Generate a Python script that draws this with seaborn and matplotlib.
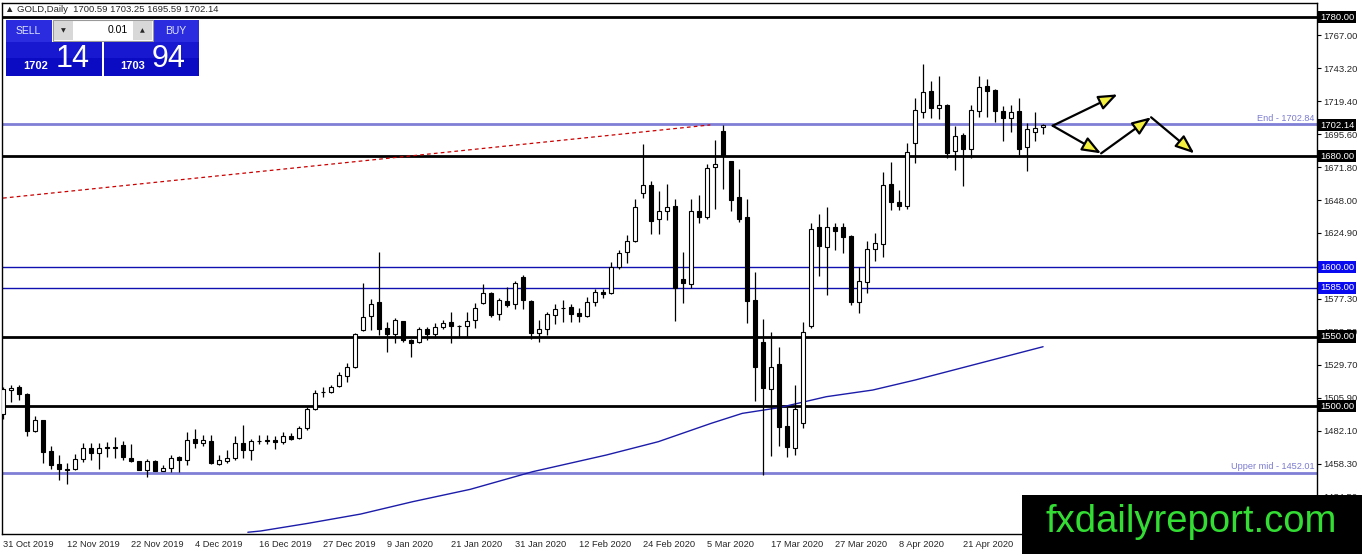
import numpy as np
import pandas as pd
import matplotlib
matplotlib.use("Agg")
import matplotlib.pyplot as plt
import seaborn as sns
from matplotlib.patches import Rectangle, FancyArrowPatch
from matplotlib import transforms

# Daily GOLD candles, 31 Oct 2019 onwards (bar index 0..130)
opens = [1494.5, 1511.5, 1513.7, 1509.0, 1482.0, 1489.7, 1467.4, 1458.5, 1455.0, 1454.9,
         1462.0, 1470.0, 1466.4, 1470.7, 1470.4, 1471.7, 1462.8, 1460.2, 1453.7, 1460.2,
         1453.2, 1455.4, 1463.3, 1461.4, 1476.5, 1473.6, 1474.6, 1458.5, 1460.4, 1462.6,
         1473.6, 1468.1, 1475.0, 1474.6, 1475.3, 1474.3, 1478.2, 1477.0, 1484.2, 1498.0,
         1509.8, 1510.3, 1514.4, 1521.6, 1527.8, 1554.7, 1564.8, 1575.1, 1555.9, 1551.6,
         1561.2, 1547.5, 1545.8, 1555.2, 1551.6, 1556.6, 1560.2, 1557.8, 1557.6, 1561.9,
         1573.9, 1581.6, 1566.2, 1575.8, 1573.4, 1593.1, 1575.8, 1552.3, 1555.2, 1565.5,
         1570.6, 1571.0, 1567.2, 1564.8, 1575.1, 1582.3, 1581.1, 1600.3, 1611.1, 1619.0,
         1653.1, 1658.9, 1634.4, 1640.4, 1644.0, 1591.2, 1587.6, 1640.4, 1636.3, 1671.8,
         1698.0, 1676.4, 1650.2, 1635.8, 1576.3, 1545.8, 1512.0, 1530.0, 1485.6, 1469.5,
         1488.0, 1557.6, 1628.6, 1614.2, 1628.6, 1629.1, 1622.4, 1575.1, 1589.5, 1612.8,
         1616.4, 1659.8, 1647.1, 1644.2, 1689.1, 1711.9, 1727.0, 1714.8, 1716.7, 1683.8,
         1695.1, 1685.0, 1712.6, 1730.4, 1727.5, 1712.6, 1707.1, 1712.4, 1686.2, 1697.5,
         1700.59]
highs = [1514.0, 1515.0, 1515.0, 1509.5, 1493.0, 1490.0, 1471.0, 1465.0, 1459.0, 1465.7,
         1473.6, 1473.4, 1473.4, 1474.0, 1478.0, 1474.6, 1472.4, 1460.4, 1462.0, 1460.9,
         1457.3, 1464.5, 1463.8, 1481.3, 1483.2, 1478.9, 1478.9, 1464.5, 1468.1, 1478.4,
         1486.1, 1476.5, 1479.4, 1479.4, 1478.2, 1481.3, 1480.6, 1485.4, 1499.3, 1511.8,
         1513.7, 1515.1, 1524.2, 1531.2, 1552.3, 1588.3, 1576.8, 1611.1, 1560.7, 1563.6,
         1561.2, 1548.0, 1557.1, 1557.1, 1560.0, 1561.9, 1567.9, 1558.0, 1567.9, 1574.4,
         1587.8, 1582.3, 1578.0, 1585.9, 1590.2, 1594.3, 1576.3, 1561.9, 1567.9, 1573.4,
         1576.3, 1573.4, 1570.3, 1578.2, 1584.0, 1584.0, 1603.9, 1612.3, 1623.1, 1649.0,
         1688.6, 1662.0, 1655.0, 1659.8, 1649.0, 1610.6, 1649.0, 1651.9, 1674.2, 1691.5,
         1702.3, 1676.4, 1670.4, 1649.0, 1596.7, 1562.4, 1553.0, 1542.7, 1499.5, 1515.1,
         1560.2, 1631.5, 1638.2, 1643.5, 1631.5, 1632.0, 1623.1, 1599.8, 1618.8, 1624.3,
         1668.7, 1675.9, 1655.5, 1689.1, 1721.5, 1746.0, 1734.0, 1737.6, 1717.2, 1701.6,
         1696.8, 1716.7, 1737.8, 1735.4, 1728.0, 1716.0, 1716.7, 1721.5, 1703.5, 1711.9,
         1703.25]
lows = [1491.0, 1503.0, 1504.0, 1478.4, 1481.0, 1459.0, 1454.4, 1446.5, 1444.0, 1454.2,
        1459.7, 1461.4, 1454.4, 1463.0, 1462.8, 1460.9, 1459.7, 1453.7, 1448.9, 1453.0,
        1453.0, 1452.5, 1452.5, 1457.3, 1470.0, 1471.0, 1458.5, 1457.3, 1459.0, 1461.4,
        1462.8, 1460.9, 1472.4, 1472.4, 1468.8, 1472.4, 1475.3, 1476.5, 1482.5, 1497.4,
        1506.5, 1509.6, 1513.9, 1517.5, 1527.1, 1554.2, 1554.7, 1551.1, 1539.1, 1545.1,
        1546.3, 1535.0, 1545.1, 1547.5, 1548.7, 1555.2, 1545.6, 1550.0, 1550.0, 1555.9,
        1573.4, 1564.3, 1561.9, 1571.5, 1569.6, 1569.6, 1548.0, 1546.3, 1551.1, 1559.0,
        1560.7, 1560.7, 1560.7, 1563.8, 1572.0, 1578.0, 1580.9, 1598.4, 1603.2, 1618.3,
        1650.0, 1623.8, 1623.8, 1633.9, 1561.0, 1574.4, 1585.2, 1631.5, 1634.4, 1641.8,
        1656.2, 1640.6, 1632.7, 1560.0, 1503.8, 1450.3, 1464.2, 1471.4, 1463.0, 1464.7,
        1483.9, 1556.0, 1593.8, 1579.9, 1612.3, 1610.4, 1572.7, 1567.2, 1581.6, 1604.4,
        1607.5, 1641.1, 1641.1, 1641.8, 1674.7, 1707.6, 1707.1, 1706.6, 1678.3, 1669.9,
        1658.6, 1678.8, 1708.3, 1708.3, 1704.7, 1690.8, 1697.0, 1680.7, 1669.4, 1690.8,
        1695.59]
closes = [1512.5, 1513.0, 1508.9, 1482.0, 1489.7, 1467.0, 1457.3, 1454.4, 1454.2, 1462.0,
          1470.0, 1466.4, 1470.0, 1469.8, 1470.0, 1463.3, 1460.4, 1453.7, 1460.2, 1453.2,
          1455.4, 1462.8, 1461.4, 1475.8, 1473.4, 1475.3, 1459.0, 1460.9, 1462.8, 1473.6,
          1468.1, 1474.8, 1474.5, 1475.3, 1474.3, 1478.2, 1476.0, 1484.4, 1498.0, 1509.6,
          1510.3, 1513.9, 1522.3, 1527.8, 1551.6, 1564.3, 1573.2, 1555.2, 1551.6, 1561.9,
          1547.5, 1545.1, 1555.2, 1551.6, 1556.6, 1559.5, 1557.6, 1557.4, 1561.4, 1570.3,
          1581.1, 1565.5, 1576.3, 1572.7, 1588.3, 1576.3, 1552.3, 1555.2, 1566.0, 1569.6,
          1570.8, 1566.2, 1565.0, 1575.1, 1582.3, 1580.4, 1600.3, 1610.4, 1618.6, 1643.0,
          1658.9, 1633.4, 1640.4, 1643.5, 1584.7, 1588.8, 1640.4, 1635.8, 1671.1, 1674.2,
          1680.7, 1648.3, 1634.4, 1575.8, 1528.3, 1513.2, 1527.8, 1485.1, 1470.7, 1497.6,
          1553.0, 1627.4, 1615.4, 1628.6, 1626.2, 1621.4, 1575.1, 1590.0, 1612.8, 1617.1,
          1659.1, 1646.6, 1644.2, 1682.6, 1713.1, 1725.8, 1714.8, 1716.7, 1682.4, 1694.4,
          1685.0, 1713.1, 1729.4, 1727.0, 1712.6, 1707.1, 1711.4, 1685.0, 1699.4, 1699.9,
          1702.14]

date_labels = ["31 Oct 2019", "12 Nov 2019", "22 Nov 2019", "4 Dec 2019", "16 Dec 2019",
               "27 Dec 2019", "9 Jan 2020", "21 Jan 2020", "31 Jan 2020", "12 Feb 2020",
               "24 Feb 2020", "5 Mar 2020", "17 Mar 2020", "27 Mar 2020", "8 Apr 2020",
               "21 Apr 2020"]

# scale labels (1601.10 sits fully under the 1600.00 box, so it is left out)
price_ticks = [1767.0, 1743.2, 1719.4, 1695.6, 1671.8, 1648.0, 1624.9,
               1577.3, 1553.5, 1529.7, 1505.9, 1482.1, 1458.3, 1434.5]

# moving average (blue curve), read at a few bars
ma_bars = [30.6, 32.2, 38.1, 44.7, 51.2, 58.4, 66.2, 75.4, 81.9, 88.5, 92.4, 97.0,
           102.9, 108.7, 114.0, 121.2, 130.0]
ma_vals = [1409.1, 1410.0, 1415.5, 1422.2, 1431.1, 1440.0, 1452.7, 1464.7, 1474.3,
           1487.5, 1494.7, 1498.8, 1506.7, 1511.5, 1518.7, 1529.5, 1542.7]

# red dashed trendline end points
trend_bars = [0.0, 88.4]
trend_vals = [1649.7, 1702.4]

# horizontal levels
black_levels = [1780.0, 1680.0, 1550.0, 1500.0]
blue_levels = [1600.0, 1585.0]
fibo_levels = [1702.84, 1452.01]
fibo_names = ["End - 1702.84", "Upper mid - 1452.01"]
last_price = 1702.14

# projection arrows (bar, price)
arrow_pts = [(131.2, 1701.8), (139.3, 1724.4), (137.25, 1681.9), (143.5, 1707.9), (148.9, 1681.9)]

W, H = 1362, 554
sns.set_style("white")
plt.rcParams['font.family'] = ['Liberation Sans', 'DejaVu Sans']

fig = plt.figure(figsize=(W / 100, H / 100), dpi=100)
ax = fig.add_axes([2.3 / W, (H - 533.5) / H, (1316.7 - 2.3) / W, (533.5 - 2.7) / H])

df = pd.DataFrame({"open": opens, "high": highs, "low": lows, "close": closes})
df["bar"] = np.arange(len(df))
up = df["close"] >= df["open"]

ax.vlines(df["bar"], df["low"], df["high"], color="black", lw=0.9, zorder=3)
body_lo = np.minimum(df["open"], df["close"])
body_h = np.maximum((df["close"] - df["open"]).abs(), 0.25)
ax.bar(df["bar"], body_h, bottom=body_lo, width=0.58,
       color=np.where(up, "white", "black"), edgecolor="black", lw=0.8, zorder=4)

for lv in black_levels:
    ax.axhline(lv, color="black", lw=2, zorder=2)
for lv in blue_levels:
    ax.axhline(lv, color="#1010b0", lw=1, zorder=2)
for lv in fibo_levels:
    ax.axhline(lv, color="#7f7fd6", lw=2, zorder=2)

sns.lineplot(x=ma_bars, y=ma_vals, color="#1c1caa", lw=1, ax=ax, zorder=2)
ax.plot(trend_bars, trend_vals, color="#cc0000", lw=0.9, ls=(0, (3, 2.5)), zorder=2)

ax.set_xlim(-0.09, 164.2)
ax.set_ylim(1408.2, 1790.4)

ax.set_xticks(np.arange(0, 8 * len(date_labels), 8))
ax.set_xticklabels(date_labels, fontsize=6.7)
for t in ax.get_xticklabels():
    t.set_ha("left")
ax.yaxis.tick_right()
ax.set_yticks(price_ticks)
ax.set_yticklabels([f"{v:.2f}" for v in price_ticks], fontsize=6.8)
ax.tick_params(axis="both", direction="out", length=3, width=0.8, color="black", pad=1.5)
ax.tick_params(axis="x", pad=2)
for s in ax.spines.values():
    s.set_color("black")
    s.set_linewidth(1)

# price boxes on the right scale
tr = transforms.blended_transform_factory(ax.transAxes, ax.transData)
boxes = [(lv, "black") for lv in black_levels] + [(lv, "#0a0af0") for lv in blue_levels] + [(last_price, "black")]
for lv, c in boxes:
    ax.text(1.0025, lv, f"{lv:.2f}", transform=tr, fontsize=6.8, color="white", va="center",
            ha="left", zorder=10, clip_on=False,
            bbox=dict(boxstyle="square,pad=0.18", fc=c, ec="none"))

for lv, name in zip(fibo_levels, fibo_names):
    ax.text(0.9985, lv + 1.2, name, transform=tr, fontsize=6.6, color="#7b7bd0", ha="right", va="bottom")

# projection arrows
seq = [(0, 1), (0, 2), (2, 3), (3, 4)]
for a, b in seq:
    ax.add_patch(FancyArrowPatch(arrow_pts[a], arrow_pts[b], arrowstyle="-|>,head_length=1.15,head_width=0.45",
                                 mutation_scale=10, fc="#f4f040", ec="black", lw=1.6, zorder=6,
                                 shrinkA=0, shrinkB=0))


# header and trade panel (figure pixels)
def fx(x):
    return x / W


def fy(y):
    return 1 - y / H


fig.text(fx(5), fy(10), "\u25b2 GOLD,Daily  1700.59 1703.25 1695.59 1702.14", fontsize=6.8, va="center")

panel = [(6, 20, 46, 22, "#2b2be0"), (153, 20, 46, 22, "#2b2be0"),
         (6, 42, 96, 34, "#0b0bc4"), (104, 42, 95, 34, "#0b0bc4"),
         (53, 20, 100, 21, "white"), (54, 21, 19, 19, "#d8d8d8"), (133, 21, 19, 19, "#d8d8d8")]
for x0, y0, w, h, c in panel:
    fig.patches.append(Rectangle((fx(x0), fy(y0 + h)), w / W, h / H, transform=fig.transFigure,
                                 fc=c, ec="#9a9a9a" if c == "white" else "none", lw=0.8, figure=fig))
# lighter top half of the price panels
for x0 in (6, 104):
    fig.patches.append(Rectangle((fx(x0), fy(58)), (96 if x0 == 6 else 95) / W, 16 / H,
                                 transform=fig.transFigure, fc="#1818d0", ec="none", figure=fig))
fig.text(fx(28), fy(31), "SELL", fontsize=7.5, color="#e0e6ff", ha="center", va="center")
fig.text(fx(176), fy(31), "BUY", fontsize=7.5, color="#e0e6ff", ha="center", va="center")
fig.text(fx(128), fy(30), "0.01", fontsize=7.5, color="black", ha="right", va="center")
fig.text(fx(63.5), fy(31), "\u25bc", fontsize=4.5, ha="center", va="center", family="DejaVu Sans")
fig.text(fx(142.5), fy(31), "\u25b2", fontsize=4.5, ha="center", va="center", family="DejaVu Sans")
fig.text(fx(23), fy(66), "1702", fontsize=8, color="white", weight="bold", va="center")
fig.text(fx(56), fy(59), "14", fontsize=22, color="white", va="center")
fig.text(fx(120), fy(66), "1703", fontsize=8, color="white", weight="bold", va="center")
fig.text(fx(152), fy(59), "94", fontsize=22, color="white", va="center")

# watermark
fig.patches.append(Rectangle((fx(1022), 0), (W - 1022) / W, 59 / H, transform=fig.transFigure,
                             fc="black", ec="none", figure=fig, zorder=5))
fig.text(fx(1191), fy(522), "fxdailyreport.com", fontsize=27.5, color="#33dd33", ha="center",
         va="center", zorder=6)

fig.savefig("out.png", dpi=100, facecolor="white")
